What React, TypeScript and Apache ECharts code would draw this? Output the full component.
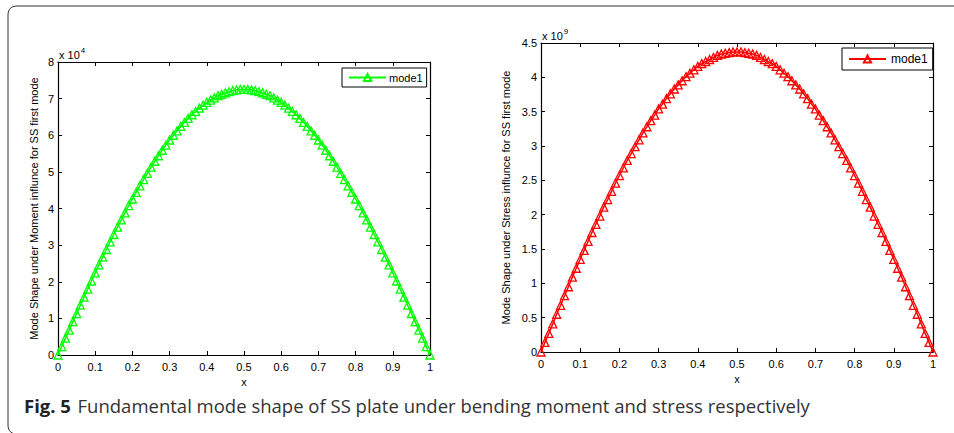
import React, { useEffect, useRef } from "react";
import * as echarts from "echarts";

const xs = [0, 0.01, 0.02, 0.03, 0.04, 0.05, 0.06, 0.07, 0.08, 0.09, 0.1, 0.11, 0.12, 0.13, 0.14, 0.15, 0.16, 0.17, 0.18, 0.19, 0.2, 0.21, 0.22, 0.23, 0.24, 0.25, 0.26, 0.27, 0.28, 0.29, 0.3, 0.31, 0.32, 0.33, 0.34, 0.35, 0.36, 0.37, 0.38, 0.39, 0.4, 0.41, 0.42, 0.43, 0.44, 0.45, 0.46, 0.47, 0.48, 0.49, 0.5, 0.51, 0.52, 0.53, 0.54, 0.55, 0.56, 0.57, 0.58, 0.59, 0.6, 0.61, 0.62, 0.63, 0.64, 0.65, 0.66, 0.67, 0.68, 0.69, 0.7, 0.71, 0.72, 0.73, 0.74, 0.75, 0.76, 0.77, 0.78, 0.79, 0.8, 0.81, 0.82, 0.83, 0.84, 0.85, 0.86, 0.87, 0.88, 0.89, 0.9, 0.91, 0.92, 0.93, 0.94, 0.95, 0.96, 0.97, 0.98, 0.99, 1];

// Moment mode shape, in units of 1e4
const momentMode = [0, 0.23, 0.46, 0.68, 0.91, 1.13, 1.36, 1.58, 1.8, 2.02, 2.24, 2.46, 2.67, 2.88, 3.09, 3.29, 3.49, 3.69, 3.88, 4.08, 4.26, 4.44, 4.62, 4.79, 4.96, 5.13, 5.29, 5.44, 5.59, 5.73, 5.87, 6.0, 6.12, 6.24, 6.35, 6.46, 6.56, 6.65, 6.74, 6.82, 6.9, 6.96, 7.02, 7.08, 7.12, 7.16, 7.19, 7.22, 7.24, 7.25, 7.25, 7.25, 7.24, 7.22, 7.19, 7.16, 7.12, 7.08, 7.02, 6.96, 6.9, 6.82, 6.74, 6.65, 6.56, 6.46, 6.35, 6.24, 6.12, 6.0, 5.87, 5.73, 5.59, 5.44, 5.29, 5.13, 4.96, 4.79, 4.62, 4.44, 4.26, 4.08, 3.88, 3.69, 3.49, 3.29, 3.09, 2.88, 2.67, 2.46, 2.24, 2.02, 1.8, 1.58, 1.36, 1.13, 0.91, 0.68, 0.46, 0.23, 0];

// Stress mode shape, in units of 1e9
const stressMode = [0, 0.14, 0.27, 0.41, 0.55, 0.68, 0.82, 0.95, 1.09, 1.22, 1.35, 1.48, 1.61, 1.74, 1.86, 1.98, 2.11, 2.22, 2.34, 2.46, 2.57, 2.68, 2.79, 2.89, 2.99, 3.09, 3.19, 3.28, 3.37, 3.45, 3.54, 3.61, 3.69, 3.76, 3.83, 3.89, 3.95, 4.01, 4.06, 4.11, 4.16, 4.2, 4.23, 4.26, 4.29, 4.32, 4.34, 4.35, 4.36, 4.37, 4.37, 4.37, 4.36, 4.35, 4.34, 4.32, 4.29, 4.26, 4.23, 4.2, 4.16, 4.11, 4.06, 4.01, 3.95, 3.89, 3.83, 3.76, 3.69, 3.61, 3.54, 3.45, 3.37, 3.28, 3.19, 3.09, 2.99, 2.89, 2.79, 2.68, 2.57, 2.46, 2.34, 2.22, 2.11, 1.98, 1.86, 1.74, 1.61, 1.48, 1.35, 1.22, 1.09, 0.95, 0.82, 0.68, 0.55, 0.41, 0.27, 0.14, 0];

const seriesName = "mode1";
const leftYName = "Mode Shape under Moment influnce for SS first mode";
const rightYName = "Mode Shape under Stress influnce for SS first mode";
const captionBold = "Fig. 5";
const captionText = "Fundamental mode shape of SS plate under bending moment and stress respectively";

const FONT = "'Liberation Sans', Arial, sans-serif";

function fmtX(v: number) {
  return String(Math.round(v * 10) / 10);
}

export default function App() {
  const ref = useRef<HTMLDivElement>(null);
  useEffect(() => {
    if (!ref.current) return;
    const chart = echarts.init(ref.current, undefined, { renderer: "svg" });

    const axisLine = { show: true, onZero: false, lineStyle: { color: "#000", width: 1.2 } };
    const tickIn = { show: true, inside: true, length: 4, lineStyle: { color: "#000", width: 1 } };
    const lbl = { color: "#000", fontSize: 11, fontFamily: FONT };

    const makeX = (gridIndex: number, pos: "bottom" | "top") => ({
      type: "value",
      gridIndex,
      position: pos,
      min: 0,
      max: 1,
      interval: 0.1,
      axisLine,
      axisTick: tickIn,
      splitLine: { show: false },
      axisLabel: pos === "bottom" ? { ...lbl, margin: 6, formatter: fmtX } : { show: false },
      name: pos === "bottom" ? "x" : "",
      nameLocation: "middle",
      nameGap: 20,
      nameTextStyle: { color: "#000", fontSize: 11, fontFamily: FONT },
    });

    const makeY = (gridIndex: number, pos: "left" | "right", max: number, interval: number, name: string, nameGap: number) => ({
      type: "value",
      gridIndex,
      position: pos,
      min: 0,
      max,
      interval,
      axisLine,
      axisTick: tickIn,
      splitLine: { show: false },
      axisLabel: pos === "left" ? { ...lbl, margin: 4 } : { show: false },
      name: pos === "left" ? name : "",
      nameLocation: "middle",
      nameGap,
      nameRotate: 90,
      nameTextStyle: { color: "#000", fontSize: 11, fontFamily: FONT },
    });

    const mk = (ys: number[]) => xs.map((x, i) => [x, ys[i]]);

    chart.setOption({
      animation: false,
      backgroundColor: "#fff",
      grid: [
        { left: 58, top: 62, width: 372, height: 293 },
        { left: 541, top: 43, width: 392, height: 309 },
      ],
      xAxis: [makeX(0, "bottom"), makeX(0, "top"), makeX(1, "bottom"), makeX(1, "top")],
      yAxis: [
        makeY(0, "left", 8, 1, leftYName, 19),
        makeY(0, "right", 8, 1, "", 0),
        makeY(1, "left", 4.5, 0.5, rightYName, 30),
        makeY(1, "right", 4.5, 0.5, "", 0),
      ],
      legend: [
        {
          data: [seriesName],
          left: 342,
          top: 68,
          padding: [4, 4, 4, 6],
          itemWidth: 37,
          itemHeight: 9,
          borderColor: "#000",
          borderWidth: 1,
          backgroundColor: "#fff",
          textStyle: { color: "#000", fontSize: 11, fontFamily: FONT, padding: [0, 0, 0, -2] },
        },
        {
          data: [seriesName + " "],
          formatter: () => seriesName,
          left: 842,
          top: 48,
          padding: [5, 5, 5, 6],
          itemWidth: 37,
          itemHeight: 9,
          borderColor: "#000",
          borderWidth: 1,
          backgroundColor: "#fff",
          textStyle: { color: "#000", fontSize: 12, fontFamily: FONT },
        },
      ],
      series: [
        {
          type: "line",
          name: seriesName,
          xAxisIndex: 0,
          yAxisIndex: 0,
          data: mk(momentMode),
          color: "#00ff00",
          lineStyle: { color: "#00ff00", width: 1.5 },
          symbol: "triangle",
          symbolSize: 8,
          showAllSymbol: true,
          itemStyle: { color: "rgba(255,255,255,0)", borderColor: "#00ff00", borderWidth: 1.3 },
        },
        {
          type: "line",
          name: seriesName + " ",
          xAxisIndex: 2,
          yAxisIndex: 2,
          data: mk(stressMode),
          color: "#ff0000",
          lineStyle: { color: "#ff0000", width: 1.5 },
          symbol: "triangle",
          symbolSize: 8,
          showAllSymbol: true,
          itemStyle: { color: "rgba(255,255,255,0)", borderColor: "#ff0000", borderWidth: 1.3 },
        },
      ],
      graphic: [
        {
          type: "rect",
          shape: { x: 8, y: 6, width: 960, height: 428, r: 8 },
          style: { fill: "none", stroke: "#333", lineWidth: 1 },
          silent: true,
        },
        {
          type: "text",
          x: 59,
          y: 46,
          style: {
            text: "{a|x 10}{s|4}",
            rich: {
              a: { fontSize: 11, fontFamily: FONT, fill: "#000", verticalAlign: "bottom" },
              s: { fontSize: 8, fontFamily: FONT, fill: "#000", verticalAlign: "top", padding: [0, 0, 6, 1] },
            },
          },
        },
        {
          type: "text",
          x: 542,
          y: 27,
          style: {
            text: "{a|x 10}{s|9}",
            rich: {
              a: { fontSize: 11, fontFamily: FONT, fill: "#000", verticalAlign: "bottom" },
              s: { fontSize: 8, fontFamily: FONT, fill: "#000", verticalAlign: "top", padding: [0, 0, 6, 1] },
            },
          },
        },
        {
          type: "text",
          x: 24,
          y: 396,
          style: {
            text: "{b|" + captionBold + "}  {n|" + captionText + "}",
            rich: {
              b: { fontSize: 18.5, fontWeight: "bold", fontFamily: "'Open Sans', 'Noto Sans', sans-serif", fill: "#222" },
              n: { fontSize: 18.5, fontFamily: "'Open Sans', 'Noto Sans', sans-serif", fill: "#333" },
            },
          },
        },
      ],
    });
    return () => chart.dispose();
  }, []);

  return <div ref={ref} style={{ position: "fixed", left: 0, top: 0, width: 954, height: 433 }} />;
}
